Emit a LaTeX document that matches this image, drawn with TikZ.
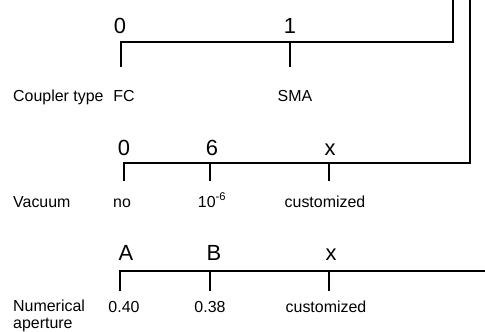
\documentclass[tikz,border=0pt]{standalone}
\usepackage{fontspec}
\setmainfont{Liberation Sans}
\usetikzlibrary{positioning,calc}

\tikzset{
  codelabel/.style={font=\fontsize{22}{24}\selectfont,inner sep=0pt,anchor=base},
  optlabel/.style={font=\fontsize{16}{18}\selectfont,inner sep=0pt,anchor=base},
  rowname/.style={font=\fontsize{16}{16.5}\selectfont,inner sep=0pt,anchor=base west,align=left},
  bar/.style={line width=1.6bp}
}

\begin{document}
\begin{tikzpicture}[x=1bp,y=-1bp]
\useasboundingbox (0,0) rectangle (485,331);

%% names of the rows
\node[rowname] (coupler) at (13,101) {Coupler type};
\node[rowname] (vacuum) at (13,207) {Vacuum};
\node[rowname] (aperture) at (13,328) {Numerical\\aperture};

%% coupler type
\def\coupler{0/121/120/FC/124, 1/290/290/SMA/295}
\foreach \c/\x/\cx/\o/\ox [count=\ni] in \coupler
{
  \coordinate (ct\ni) at (\x,42);
  \coordinate (cb\ni) at (\x,67);
  \node[codelabel] (cc\ni) at (\cx,33) {\c};
  \node[optlabel] (co\ni) at (\ox,101) {\o};
  \draw[bar] (ct\ni) -- (cb\ni);
}
\coordinate (cend) at (453,42);
\coordinate (ctop) at (453,0);
\draw[bar] (cb1) -- (ct1) -- (cend) -- (ctop);

%% vacuum
\def\vacuum{0/124/124/no/122, 6/210/212/{10\textsuperscript{-6}}/212, x/329/330/customized/325}
\foreach \c/\x/\cx/\o/\ox [count=\ni] in \vacuum
{
  \coordinate (vt\ni) at (\x,163);
  \coordinate (vb\ni) at (\x,181);
  \node[codelabel] (vc\ni) at (\cx,155) {\c};
  \node[optlabel] (vo\ni) at (\ox,207) {\o};
  \draw[bar] (vt\ni) -- (vb\ni);
}
\coordinate (vend) at (470,163);
\coordinate (vtop) at (470,0);
\draw[bar] (vb1) -- (vt1) -- (vend) -- (vtop);

%% numerical aperture
\def\aperture{A/120/126/0.40/124, B/210/214/0.38/210, x/329/331/customized/326}
\foreach \c/\x/\cx/\o/\ox [count=\ni] in \aperture
{
  \coordinate (nt\ni) at (\x,271);
  \coordinate (nb\ni) at (\x,291);
  \node[codelabel] (nc\ni) at (\cx,260) {\c};
  \node[optlabel] (no\ni) at (\ox,312) {\o};
  \draw[bar] (nt\ni) -- (nb\ni);
}
\coordinate (nend) at (486,271);
\draw[bar] (nb1) -- (nt1) -- (nend);

\end{tikzpicture}
\end{document}
